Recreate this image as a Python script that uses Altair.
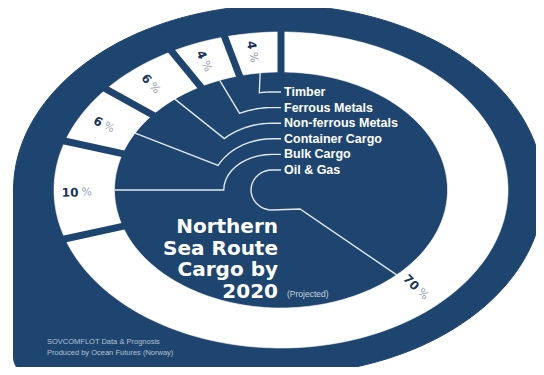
import numpy as np
import pandas as pd
import altair as alt

# ---------------- data (read from the infographic) ----------------
categories = ["Oil & Gas", "Bulk Cargo", "Container Cargo", "Non-ferrous Metals",
              "Ferrous Metals", "Timber"]
shares = [70, 10, 6, 6, 4, 4]
title_lines = ["Northern", "Sea Route", "Cargo by", "2020"]
subtitle = "(Projected)"
footer_lines = ["SOVCOMFLOT Data & Prognosis", "Produced by Ocean Futures (Norway)"]

# ---------------- styling / layout constants (page pixel space) ----------------
NAVY = "#1e456f"
NUM_NAVY = "#1b3558"
PCT_GREY = "#95a3b6"
LINE_WHITE = "#e2e8ef"
W, H = 528, 359                      # view size; page margin is 8px
X0, X1, Y0, Y1 = 8, 8 + W, 8, 8 + H  # domains == page pixel coordinates
BG_CX, BG_CY, BG_RX, BG_RY = 278.5, 190.0, 265.0, 185.0
CX, CY = 281.0, 190.0
OUT_RX, OUT_RY = 227.0, 158.0
IN_RX, IN_RY = 166.5, 118.0
CORNER_R = 18.0
CON_CX, CON_CY = 272.0, 190.0
LEG_X, LEG_Y0, LEG_STEP = 284.0, 170.0, 15.6
TITLE_X, TITLE_Y0, TITLE_STEP = 278.0, 227.0, 21.6


def ell(rx, ry, t, cx=CX, cy=CY):
    r = np.radians(t)
    return float(cx + rx * np.sin(r)), float(cy - ry * np.cos(r))


# background shape: ellipse with a squared bottom-left corner
bg_pts = [ell(BG_RX, BG_RY, t, BG_CX, BG_CY) for t in np.arange(0, 181, 2)]
left_x, bottom_y = BG_CX - BG_RX, BG_CY + BG_RY
bg_pts += [ell(CORNER_R, CORNER_R, t, cx=left_x + CORNER_R, cy=bottom_y - CORNER_R)
           for t in np.arange(180, 271, 10)]
bg_pts += [ell(BG_RX, BG_RY, t, BG_CX, BG_CY) for t in np.arange(270, 361, 2)]
bg_df = pd.DataFrame([{"o": i, "x": x, "y": y} for i, (x, y) in enumerate(bg_pts)])

# segment angles (clockwise from 12 o'clock)
total = sum(shares)
cum = np.cumsum([0] + shares)
bounds = [(360 * cum[i] / total, 360 * cum[i + 1] / total) for i in range(len(shares))]

seg_rows = []
for cat, (t0, t1) in zip(categories, bounds):
    n = max(6, int((t1 - t0) / 1.5))
    ts = np.linspace(t0, t1, n)
    pts = [ell(OUT_RX, OUT_RY, t) for t in ts] + [ell(IN_RX, IN_RY, t) for t in ts[::-1]]
    for j, (x, y) in enumerate(pts):
        seg_rows.append({"cat": cat, "o": j, "x": x, "y": y})
seg_df = pd.DataFrame(seg_rows)

gap_rows = []
for t0, _ in bounds:
    xa, ya = ell(IN_RX * 0.95, IN_RY * 0.95, t0)
    xb, yb = ell(OUT_RX * 1.04, OUT_RY * 1.04, t0)
    gap_rows.append({"x": xa, "y": ya, "x2": xb, "y2": yb})
gap_df = pd.DataFrame(gap_rows)

# percent labels (the big share is labelled further round, near its leader line)
BIG_LABEL_T = 136.0
lab_rows = []
for k, (cat, s, (t0, t1)) in enumerate(zip(categories, shares, bounds)):
    if k == 0:
        t, f = BIG_LABEL_T, 0.5
        ang = t - 90
    else:
        t, f = (t0 + t1) / 2 - 1.0, 0.58
        ang = t - 270
    x, y = ell(IN_RX + (OUT_RX - IN_RX) * f, IN_RY + (OUT_RY - IN_RY) * f, t)
    lab_rows.append({"cat": cat, "num": str(s), "pct": "%", "x": x, "y": y, "ang": ang})
lab_df = pd.DataFrame(lab_rows)

# legend labels and leader lines
leg_rows, con_rows = [], []
for k, cat in enumerate(categories):
    ly = LEG_Y0 - LEG_STEP * k
    leg_rows.append({"cat": cat, "x": LEG_X, "y": ly})
    ry = CON_CY - ly
    pts = [(LEG_X - 3, ly)]
    if k == 0:
        rx = ry * 1.05
        pts += [ell(rx, ry, t, CON_CX, CON_CY) for t in np.arange(360, 179, -10)]
        pts.append((CON_CX + 28, CON_CY + ry - 1))
        pts.append(ell(IN_RX, IN_RY, BIG_LABEL_T))
    else:
        rx = 0.85 * ry + 18
        t0, t1 = bounds[k]
        tm = (t0 + t1) / 2
        pts += [ell(rx, ry, t, CON_CX, CON_CY) for t in np.linspace(360, tm, 12)]
        pts.append(ell(IN_RX, IN_RY, tm))
    for j, (x, y) in enumerate(pts):
        con_rows.append({"cat": cat, "o": j, "x": x, "y": y})
leg_df = pd.DataFrame(leg_rows)
con_df = pd.DataFrame(con_rows)

title_df = pd.DataFrame([{"t": s, "x": TITLE_X, "y": TITLE_Y0 + TITLE_STEP * i}
                         for i, s in enumerate(title_lines)])
sub_df = pd.DataFrame([{"t": subtitle, "x": TITLE_X + 9, "y": TITLE_Y0 + TITLE_STEP * 3 + 2}])
foot_df = pd.DataFrame([{"t": s, "x": 47.0, "y": 342.0 + 10.5 * i}
                        for i, s in enumerate(footer_lines)])

# ---------------- chart ----------------
XS = alt.Scale(domain=[X0, X1], nice=False, zero=False)
YS = alt.Scale(domain=[Y0, Y1], nice=False, zero=False, reverse=True)
ex = alt.X("x:Q", scale=XS, axis=None)
ey = alt.Y("y:Q", scale=YS, axis=None)

bg = alt.Chart(bg_df).mark_line(filled=True, fill=NAVY, stroke=NAVY, strokeWidth=1).encode(
    x=ex, y=ey, order="o:Q")

segs = alt.Chart(seg_df).mark_line(filled=True, fill="white", stroke="white", strokeWidth=0.6).encode(
    x=ex, y=ey, order="o:Q", detail="cat:N")

gaps = alt.Chart(gap_df).mark_rule(color=NAVY, strokeWidth=7).encode(
    x=ex, y=ey, x2="x2:Q", y2="y2:Q")

cons = alt.Chart(con_df).mark_line(color=LINE_WHITE, strokeWidth=1.4).encode(
    x=ex, y=ey, order="o:Q", detail="cat:N")

nums = alt.Chart(lab_df).mark_text(align="right", baseline="middle", dx=-1, fontSize=12,
                                   fontWeight="bold", font="DejaVu Sans", color=NUM_NAVY).encode(
    x=ex, y=ey, text="num:N", angle=alt.Angle("ang:Q", scale=None))
pcts = alt.Chart(lab_df).mark_text(align="left", baseline="middle", dx=2, fontSize=11,
                                   font="DejaVu Sans", color=PCT_GREY).encode(
    x=ex, y=ey, text="pct:N", angle=alt.Angle("ang:Q", scale=None))

legend = alt.Chart(leg_df).mark_text(align="left", baseline="middle", fontSize=12.5,
                                     fontWeight="bold", font="Liberation Sans",
                                     color="white").encode(x=ex, y=ey, text="cat:N")

title = alt.Chart(title_df).mark_text(align="right", baseline="middle", fontSize=20,
                                      fontWeight="bold", font="DejaVu Sans",
                                      color="white").encode(x=ex, y=ey, text="t:N")
sub = alt.Chart(sub_df).mark_text(align="left", baseline="middle", fontSize=8.5,
                                  font="Liberation Sans", color="#c9d3df").encode(
    x=ex, y=ey, text="t:N")
foot = alt.Chart(foot_df).mark_text(align="left", baseline="middle", fontSize=7.5,
                                    font="Liberation Sans", color="#b3c0d2").encode(
    x=ex, y=ey, text="t:N")

chart = alt.layer(bg, segs, gaps, cons, nums, pcts, legend, title, sub, foot).properties(
    width=W, height=H, padding=0, autosize=alt.AutoSizeParams(type="none"),
    background="white"
).configure_view(stroke=None)

chart.save("out.html", embed_options={"renderer": "svg", "actions": False})
